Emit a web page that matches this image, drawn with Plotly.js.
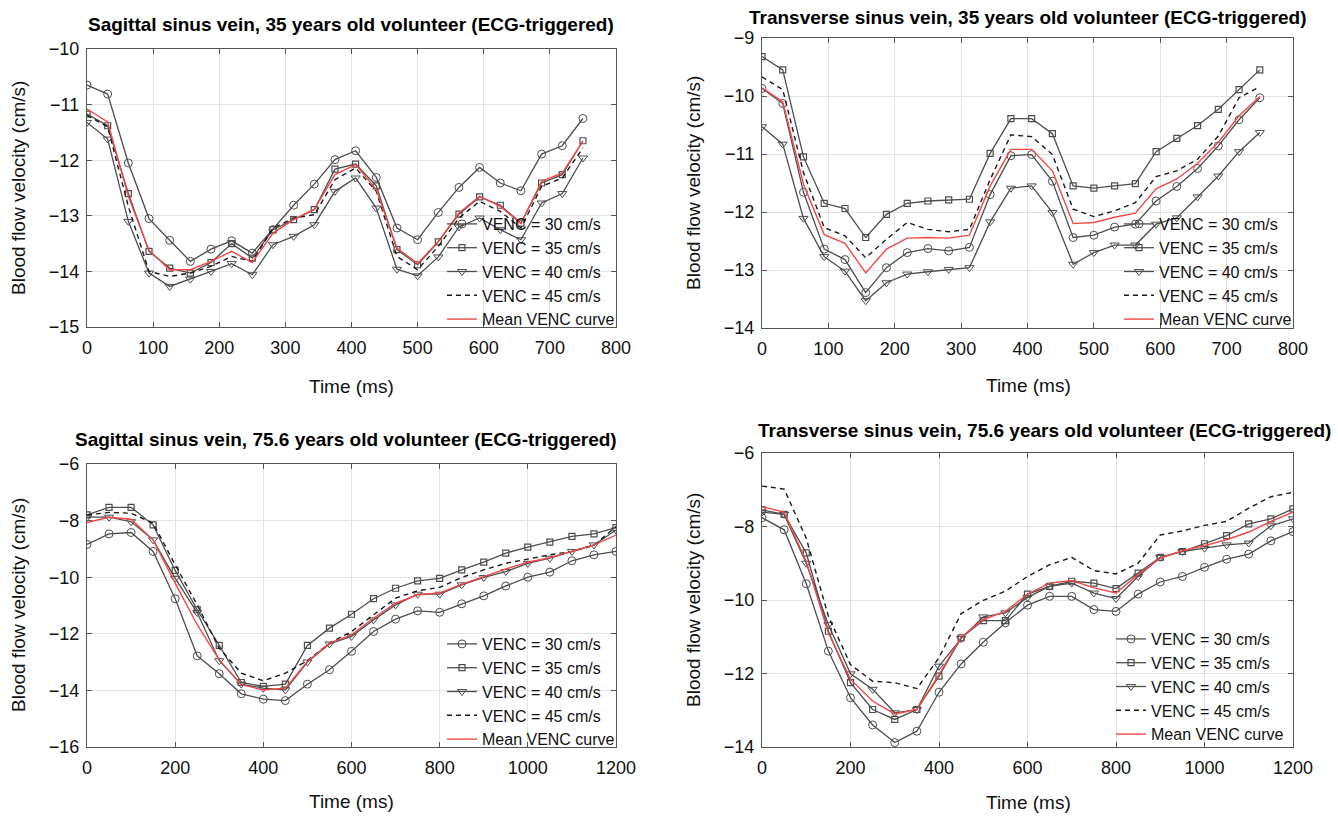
<!DOCTYPE html>
<html>
<head>
<meta charset="utf-8">
<script src="https://cdn.plot.ly/plotly-3.0.1.min.js"></script>
<style>html,body{margin:0;padding:0;background:#fff;}#chart{width:1338px;height:818px;}</style>
</head>
<body>
<div id="chart"></div>
<script>
// ---------- data ----------
const time35 = [0,31.25,62.5,93.75,125,156.25,187.5,218.75,250,281.25,312.5,343.75,375,406.25,437.5,468.75,500,531.25,562.5,593.75,625,656.25,687.5,718.75,750];
const time75 = [0,50,100,150,200,250,300,350,400,450,500,550,600,650,700,750,800,850,900,950,1000,1050,1100,1150,1200];

const seriesNames = ["VENC = 30 cm/s","VENC = 35 cm/s","VENC = 40 cm/s","VENC = 45 cm/s","Mean VENC curve"];

const panelTitles = [
  "Sagittal sinus vein, 35 years old volunteer (ECG-triggered)",
  "Transverse sinus vein, 35 years old volunteer (ECG-triggered)",
  "Sagittal sinus vein, 75.6 years old volunteer (ECG-triggered)",
  "Transverse sinus vein, 75.6 years old volunteer (ECG-triggered)"
];
const xTitle = "Time (ms)";
const yTitle = "Blood flow velocity (cm/s)";

// Sagittal, 35 y
const sag35_v30 = [-10.65,-10.81,-12.05,-13.05,-13.44,-13.82,-13.60,-13.45,-13.67,-13.25,-12.81,-12.43,-11.99,-11.83,-12.31,-13.22,-13.43,-12.94,-12.49,-12.13,-12.41,-12.55,-11.89,-11.74,-11.25];
const sag35_v35 = [-11.17,-11.38,-12.60,-13.64,-13.94,-14.03,-13.84,-13.50,-13.76,-13.25,-13.07,-12.89,-12.16,-12.07,-12.46,-13.61,-13.88,-13.47,-12.97,-12.66,-12.81,-13.13,-12.41,-12.26,-11.65];
const sag35_v40 = [-11.32,-11.62,-13.10,-14.03,-14.27,-14.14,-14.00,-13.86,-14.06,-13.52,-13.37,-13.16,-12.56,-12.32,-12.86,-13.96,-14.08,-13.74,-13.20,-13.04,-13.25,-13.43,-12.77,-12.60,-11.96];
const sag35_v45 = [-11.19,-11.40,-12.83,-14.00,-14.09,-14.03,-13.91,-13.73,-13.82,-13.22,-13.04,-12.98,-12.35,-12.14,-12.56,-13.73,-13.97,-13.55,-13.04,-12.74,-12.92,-13.22,-12.47,-12.32,-11.78];
const sag35_mean = [-11.08,-11.31,-12.65,-13.62,-13.97,-13.97,-13.82,-13.64,-13.84,-13.31,-13.07,-12.88,-12.26,-12.08,-12.53,-13.58,-13.86,-13.46,-12.95,-12.65,-12.83,-13.14,-12.38,-12.23,-11.66];

// Transverse, 35 y
const tra35_v30 = [-9.87,-10.13,-11.66,-12.64,-12.82,-13.39,-12.96,-12.70,-12.63,-12.67,-12.61,-11.70,-11.03,-11.01,-11.47,-12.44,-12.40,-12.26,-12.21,-11.81,-11.56,-11.25,-10.86,-10.41,-10.03];
const tra35_v35 = [-9.32,-9.55,-11.05,-11.85,-11.94,-12.44,-12.04,-11.85,-11.81,-11.79,-11.78,-10.99,-10.39,-10.39,-10.65,-11.55,-11.59,-11.55,-11.51,-10.96,-10.73,-10.51,-10.23,-9.89,-9.55];
const tra35_v40 = [-10.53,-10.83,-12.11,-12.77,-13.02,-13.53,-13.22,-13.07,-13.03,-12.99,-12.96,-12.17,-11.59,-11.55,-12.01,-12.90,-12.70,-12.57,-12.57,-12.21,-12.10,-11.74,-11.38,-10.96,-10.63];
const tra35_v45 = [-9.67,-9.89,-11.32,-12.27,-12.41,-12.79,-12.47,-12.18,-12.30,-12.34,-12.30,-11.44,-10.67,-10.70,-11.01,-11.95,-12.08,-11.98,-11.84,-11.39,-11.29,-11.09,-10.69,-10.03,-9.84];
const tra35_mean = [-9.86,-10.10,-11.52,-12.39,-12.54,-13.05,-12.64,-12.45,-12.44,-12.45,-12.40,-11.55,-10.92,-10.92,-11.29,-12.20,-12.18,-12.09,-12.02,-11.60,-11.43,-11.16,-10.80,-10.34,-10.01];

// Sagittal, 75.6 y
const sag75_v30 = [-8.84,-8.47,-8.42,-9.09,-10.76,-12.78,-13.41,-14.12,-14.31,-14.36,-13.78,-13.27,-12.62,-11.92,-11.48,-11.19,-11.24,-10.94,-10.66,-10.31,-10.00,-9.82,-9.42,-9.21,-9.09];
const sag75_v35 = [-7.80,-7.53,-7.53,-8.15,-9.76,-11.15,-12.41,-13.72,-13.86,-13.78,-12.41,-11.80,-11.31,-10.76,-10.39,-10.13,-10.04,-9.74,-9.47,-9.15,-8.94,-8.76,-8.56,-8.47,-8.25];
const sag75_v40 = [-7.88,-7.88,-8.04,-8.68,-10.04,-11.25,-12.95,-13.78,-13.92,-13.98,-13.00,-12.36,-12.09,-11.51,-10.98,-10.60,-10.60,-10.27,-10.01,-9.80,-9.51,-9.33,-9.09,-8.86,-8.33];
const sag75_v45 = [-7.80,-7.71,-7.74,-8.09,-9.56,-10.98,-12.51,-13.39,-13.66,-13.39,-12.95,-12.33,-11.92,-11.33,-10.74,-10.48,-10.36,-10.01,-9.74,-9.51,-9.35,-9.21,-9.09,-8.88,-8.21];
const sag75_mean = [-8.07,-7.88,-7.95,-8.68,-10.21,-11.68,-12.92,-13.80,-13.98,-13.92,-12.98,-12.33,-12.04,-11.45,-10.92,-10.62,-10.56,-10.25,-9.98,-9.71,-9.47,-9.31,-9.09,-8.86,-8.51];

// Transverse, 75.6 y
const tra75_v30 = [-7.76,-8.09,-9.56,-11.39,-12.66,-13.40,-13.88,-13.57,-12.51,-11.74,-11.15,-10.62,-10.14,-9.90,-9.90,-10.26,-10.31,-9.84,-9.51,-9.36,-9.11,-8.89,-8.75,-8.39,-8.14];
const tra75_v35 = [-7.55,-7.67,-8.72,-10.85,-12.25,-12.98,-13.25,-12.98,-12.07,-11.03,-10.56,-10.56,-9.84,-9.63,-9.49,-9.54,-9.69,-9.27,-8.84,-8.68,-8.47,-8.25,-7.93,-7.79,-7.52];
const tra75_v40 = [-7.61,-7.67,-9.00,-10.67,-12.01,-12.43,-13.07,-12.98,-11.80,-11.05,-10.46,-10.35,-9.93,-9.63,-9.54,-9.81,-9.96,-9.36,-8.84,-8.68,-8.59,-8.50,-8.45,-7.98,-7.79];
const tra75_v45 = [-6.90,-6.98,-8.32,-10.44,-11.76,-12.21,-12.25,-12.41,-11.57,-10.37,-10.01,-9.76,-9.36,-9.04,-8.84,-9.20,-9.29,-9.00,-8.23,-8.12,-7.97,-7.86,-7.50,-7.19,-7.07];
const tra75_mean = [-7.46,-7.61,-8.95,-10.90,-12.16,-12.75,-13.10,-12.98,-12.03,-11.01,-10.53,-10.31,-9.84,-9.54,-9.47,-9.67,-9.81,-9.31,-8.86,-8.66,-8.52,-8.36,-8.15,-7.86,-7.61];

// ---------- styling ----------
const W = 1338, H = 818;
const FONT = "Liberation Sans, Arial, sans-serif";
const GREY = "#4d4d4d";
const RED = "#f24848";

// plot boxes in pixels: [left, right, top, bottom]
const boxes = [
  [87, 616, 49, 327],
  [762, 1293, 38, 328],
  [87, 616, 464, 747],
  [762, 1293, 453, 747]
];
const ranges = [
  {x:[0,800], y:[-15,-10], dy:1},
  {x:[0,800], y:[-14,-9], dy:1},
  {x:[0,1200], y:[-16,-6], dy:2},
  {x:[0,1200], y:[-14,-6], dy:2}
];
const panels = [
  {t: time35, s:[sag35_v30, sag35_v35, sag35_v40, sag35_v45, sag35_mean]},
  {t: time35, s:[tra35_v30, tra35_v35, tra35_v40, tra35_v45, tra35_mean]},
  {t: time75, s:[sag75_v30, sag75_v35, sag75_v40, sag75_v45, sag75_mean]},
  {t: time75, s:[tra75_v30, tra75_v35, tra75_v40, tra75_v45, tra75_mean]}
];
const titlePos = [[351, 25], [1028, 17], [346, 439], [1044, 430]];
const xTitlePos = [[351, 387], [1028, 385], [351, 801], [1028, 802]];
const yTitlePos = [[18, 188], [693, 183], [18, 605], [693, 600]];
const legendBottom = [336, 336, 756, 751];
const legendRight = [620, 1297, 620, 1289];

const styles = [
  {mode:"lines+markers", line:{color:GREY, width:1.3}, marker:{symbol:"circle-open", size:8, color:GREY, line:{width:1}}},
  {mode:"lines+markers", line:{color:GREY, width:1.3}, marker:{symbol:"square-open", size:6, color:GREY, line:{width:1.2}}},
  {mode:"lines+markers", line:{color:GREY, width:1.3}, marker:{symbol:"triangle-down-open", size:8, color:GREY, line:{width:1}}},
  {mode:"lines", line:{color:"#1a1a1a", width:1.4, dash:"5px,4px"}},
  {mode:"lines", line:{color:RED, width:1.4}}
];

const px = x => x / W;
const py = y => 1 - y / H;

const data = [];
const layout = {
  width: W, height: H,
  margin: {l:0, r:0, t:0, b:0},
  paper_bgcolor: "#fff",
  plot_bgcolor: "#fff",
  font: {family: FONT, size: 16, color: "#111"},
  showlegend: true,
  annotations: []
};

panels.forEach((p, i) => {
  const n = i === 0 ? "" : String(i + 1);
  const b = boxes[i];
  const r = ranges[i];
  const legName = "legend" + n;
  p.s.forEach((vals, k) => {
    data.push(Object.assign({
      type: "scatter",
      x: p.t, y: vals,
      name: seriesNames[k],
      xaxis: "x" + n, yaxis: "y" + n,
      legend: legName
    }, JSON.parse(JSON.stringify(styles[k]))));
  });
  const axCommon = {
    showline: true, mirror: "ticks", linecolor: "#555", linewidth: 1.2,
    ticks: "inside", ticklen: 5, tickcolor: "#555", tickwidth: 1,
    showgrid: true, gridcolor: "#e2e2e2", gridwidth: 1, zeroline: false,
    tickfont: {family: FONT, size: 18, color: "#111"},
    fixedrange: true
  };
  layout["xaxis" + n] = Object.assign({}, axCommon, {
    domain: [px(b[0]), px(b[1])], range: r.x, dtick: (r.x[1] === 800 ? 100 : 200), tick0: 0,
    anchor: "y" + n, ticklabelstandoff: 4
  });
  layout["yaxis" + n] = Object.assign({}, axCommon, {
    domain: [py(b[3]), py(b[2])], range: r.y, dtick: r.dy, tick0: 0,
    anchor: "x" + n, ticklabelstandoff: 3
  });
  layout[legName] = {
    x: px(legendRight[i]), xanchor: "right",
    y: py(legendBottom[i]), yanchor: "bottom",
    bgcolor: "rgba(0,0,0,0)", borderwidth: 0,
    font: {family: FONT, size: 16, color: "#111"},
    tracegroupgap: 0, itemwidth: 30
  };
  layout.annotations.push({
    text: "<b>" + panelTitles[i] + "</b>", xref: "paper", yref: "paper",
    x: px(titlePos[i][0]), y: py(titlePos[i][1]), xanchor: "center", yanchor: "middle",
    showarrow: false, font: {family: FONT, size: 19, color: "#000"}
  });
  layout.annotations.push({
    text: xTitle, xref: "paper", yref: "paper",
    x: px(xTitlePos[i][0]), y: py(xTitlePos[i][1]), xanchor: "center", yanchor: "middle",
    showarrow: false, font: {family: FONT, size: 19, color: "#111"}
  });
  layout.annotations.push({
    text: yTitle, xref: "paper", yref: "paper", textangle: -90,
    x: px(yTitlePos[i][0]), y: py(yTitlePos[i][1]), xanchor: "center", yanchor: "middle",
    showarrow: false, font: {family: FONT, size: 19, color: "#111"}
  });
});

Plotly.newPlot("chart", data, layout, {displayModeBar: false, staticPlot: true});
</script>
</body>
</html>
